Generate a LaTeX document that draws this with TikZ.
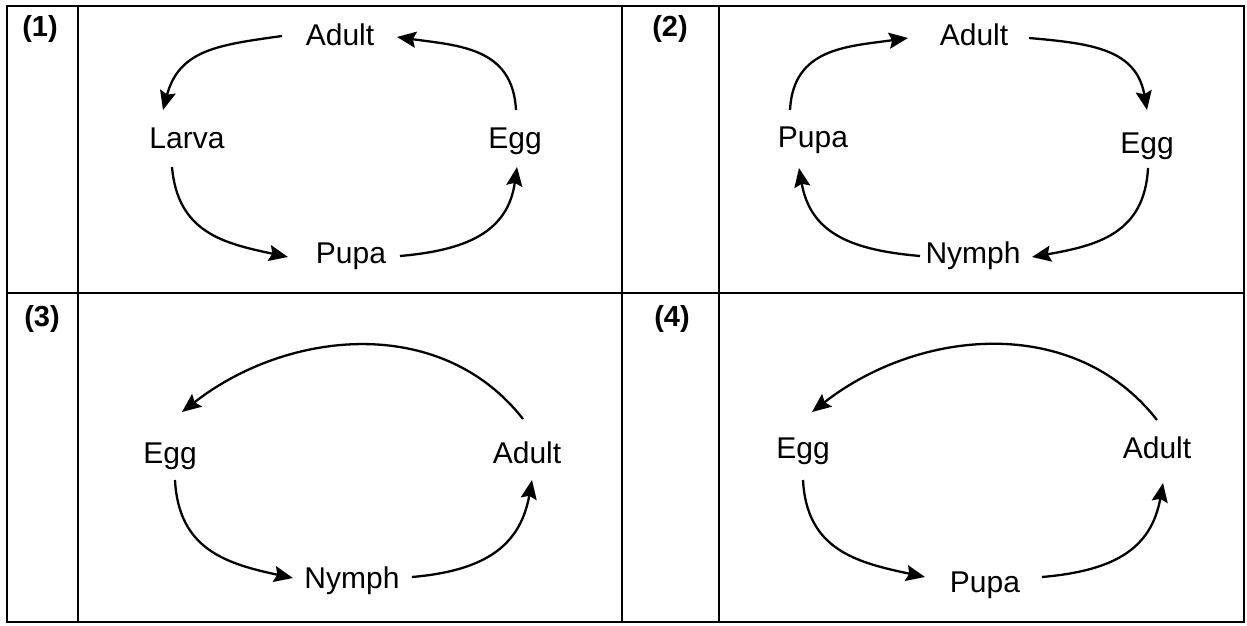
\documentclass[tikz,border=0pt]{standalone}
\usepackage{fontspec}
\setmainfont{Liberation Sans}
\usetikzlibrary{arrows.meta}
\begin{document}
\begin{tikzpicture}[x=1pt,y=1pt,
  lbl/.style={font=\fontsize{30}{36}\selectfont, inner sep=0pt, anchor=base},
  num/.style={font=\bfseries\fontsize{29}{34}\selectfont, inner sep=0pt, anchor=base},
  arr/.style={line width=2.3pt, -{Stealth[length=19pt,width=16pt,inset=3pt]}, looseness=1.15},
  bigarr/.style={arr, looseness=1.0},
  gridline/.style={line width=1.8pt}
]
\useasboundingbox (0,0) rectangle (1247,-625);
% table
\draw[gridline] (7,-6) rectangle (1244,-622);
\draw[gridline] (78,-6) -- (78,-622);
\draw[gridline] (622,-6) -- (622,-622);
\draw[gridline] (719,-6) -- (719,-622);
\draw[gridline] (7,-293) -- (1244,-293);
% numbers
\node[num] (n1) at (40,-36) {(1)};
\node[num] (n2) at (670,-36) {(2)};
\node[num] (n3) at (42,-326) {(3)};
\node[num] (n4) at (672,-326) {(4)};
% panel 1
\node[lbl] (A1) at (340,-45) {Adult};
\node[lbl] (L1) at (187,-148) {Larva};
\node[lbl] (E1) at (515,-148) {Egg};
\node[lbl] (P1) at (351,-263) {Pupa};
\draw[arr] ([shift={(-58,9)}]A1.base) to[out=188,in=75] ([shift={(-24,38)}]L1.base);
\draw[arr] ([shift={(1,38)}]E1.base) to[out=93,in=-8] ([shift={(57,8)}]A1.base);
\draw[arr] ([shift={(-15,-19)}]L1.base) to[out=-85,in=168] ([shift={(-63,6)}]P1.base);
\draw[arr] ([shift={(49,7)}]P1.base) to[out=5,in=-98] ([shift={(2,-19)}]E1.base);
% panel 2
\node[lbl] (A2) at (974,-45) {Adult};
\node[lbl] (U2) at (813,-147) {Pupa};
\node[lbl] (E2) at (1147,-153) {Egg};
\node[lbl] (N2) at (973,-263) {Nymph};
\draw[arr] ([shift={(-23,37)}]U2.base) to[out=87,in=188] ([shift={(-66,7)}]A2.base);
\draw[arr] ([shift={(55,7)}]A2.base) to[out=-5,in=100] ([shift={(0,43)}]E2.base);
\draw[arr] ([shift={(1,-15)}]E2.base) to[out=-93,in=10] ([shift={(59,6)}]N2.base);
\draw[arr] ([shift={(-53,7)}]N2.base) to[out=175,in=-80] ([shift={(-14,-21)}]U2.base);
% panel 3
\node[lbl] (E3) at (170,-463) {Egg};
\node[lbl] (D3) at (527,-463) {Adult};
\node[lbl] (N3) at (352,-588) {Nymph};
\draw[bigarr] ([shift={(-4,44)}]D3.base) to[out=128,in=38] ([shift={(12,51)}]E3.base);
\draw[arr] ([shift={(5,-17)}]E3.base) to[out=-87,in=168] ([shift={(-59,10)}]N3.base);
\draw[arr] ([shift={(60,11)}]N3.base) to[out=5,in=-100] ([shift={(5,-17)}]D3.base);
% panel 4
\node[lbl] (E4) at (803,-458) {Egg};
\node[lbl] (D4) at (1157,-458) {Adult};
\node[lbl] (P4) at (985,-592) {Pupa};
\draw[bigarr] ([shift={(0,38)}]D4.base) to[out=128,in=38] ([shift={(9,46)}]E4.base);
\draw[arr] ([shift={(0,-22)}]E4.base) to[out=-87,in=168] ([shift={(-60,15)}]P4.base);
\draw[arr] ([shift={(57,15)}]P4.base) to[out=5,in=-100] ([shift={(6,-25)}]D4.base);
\end{tikzpicture}
\end{document}
